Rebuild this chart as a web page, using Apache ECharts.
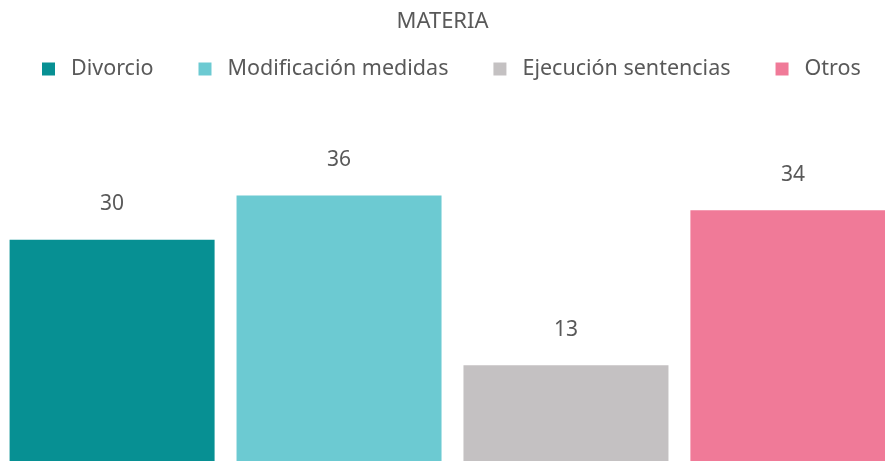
<!DOCTYPE html>
<html>
<head>
<meta charset="utf-8">
<script src="https://cdn.jsdelivr.net/npm/echarts@6/dist/echarts.min.js"></script>
<style>
  html, body { margin: 0; padding: 0; background: #fff; }
  #chart { width: 885px; height: 461px; }
</style>
</head>
<body>
<div id="chart"></div>
<script>
// Casos por materia
const categories = ['MATERIA'];
const seriesNames = ['Divorcio', 'Modificación medidas', 'Ejecución sentencias', 'Otros'];
const seriesValues = [30, 36, 13, 34];
const seriesColors = ['#079093', '#6ccad2', '#c4c1c2', '#f07a98'];

const FONT = "'Noto Sans', sans-serif";
const TEXT_COLOR = '#595959';

const chart = echarts.init(document.getElementById('chart'), null, { renderer: 'canvas' });

const series = seriesNames.map((name, i) => ({
  name: name,
  type: 'bar',
  data: [seriesValues[i]],
  barWidth: 205,
  barGap: '10.7%',
  clip: false,
  itemStyle: { color: seriesColors[i] },
  label: {
    show: true,
    position: 'top',
    distance: 25,
    color: TEXT_COLOR,
    fontFamily: FONT,
    fontSize: 21
  }
}));

chart.setOption({
  animation: false,
  title: {
    text: 'MATERIA',
    left: 'center',
    top: 6,
    textStyle: { color: TEXT_COLOR, fontFamily: FONT, fontWeight: 'normal', fontSize: 22 }
  },
  legend: {
    data: seriesNames,
    top: 53,
    left: 37,
    icon: 'rect',
    itemWidth: 13,
    itemHeight: 13,
    itemGap: 45,
    textStyle: { color: TEXT_COLOR, fontFamily: FONT, fontSize: 21.5, padding: [0, 0, 0, 11] }
  },
  grid: { left: 20, right: 0, top: 166, bottom: 0, containLabel: false },
  xAxis: {
    type: 'category',
    data: categories,
    show: false
  },
  yAxis: {
    type: 'value',
    min: 0,
    max: 40,
    show: false
  },
  series: series
});
</script>
</body>
</html>
